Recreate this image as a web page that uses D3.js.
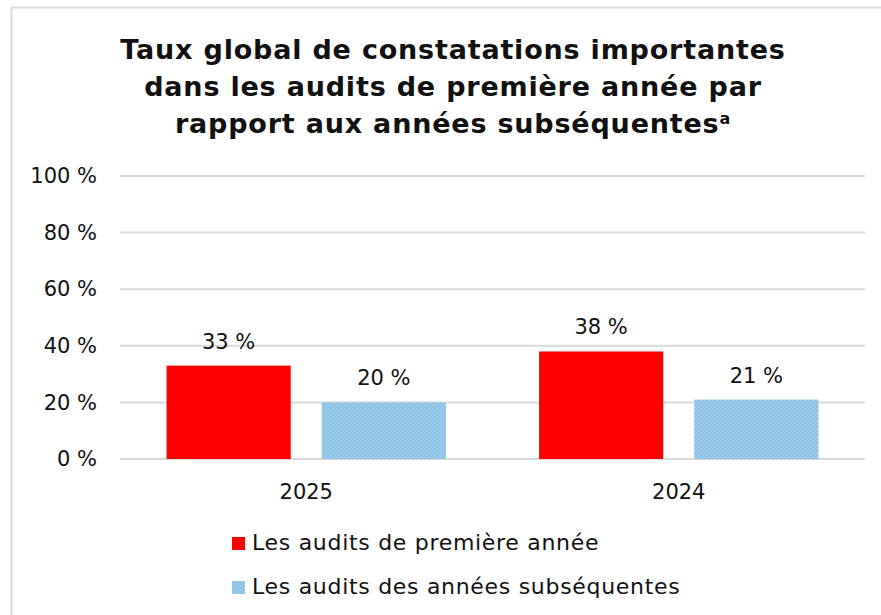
<!DOCTYPE html>
<html>
<head>
<meta charset="utf-8">
<script src="https://cdn.jsdelivr.net/npm/d3@7"></script>
<style>
  body { margin: 0; background: #fff; }
  text { font-family: "DejaVu Sans", sans-serif; fill: #111; }
</style>
</head>
<body>
<svg id="chart" width="881" height="615"></svg>
<script>
    var categories = ['2025', '2024'];
    var seriesNames = ['Les audits de première année', 'Les audits des années subséquentes'];
    var firstYear = [33, 38];
    var laterYears = [20, 21];
    var yTicks = [0, 20, 40, 60, 80, 100];
    var titleLines = ['Taux global de constatations importantes',
                      'dans les audits de première année par',
                      'rapport aux années subséquentes'];

    var svg = d3.select('#chart');
    var colors = ['#ff0000', 'url(#dots)'];

    // light blue dotted fill
    var pat = svg.append('defs').append('pattern')
      .attr('id', 'dots').attr('width', 4).attr('height', 4)
      .attr('patternUnits', 'userSpaceOnUse');
    pat.append('rect').attr('width', 4).attr('height', 4).attr('fill', '#8cc0e4');
    pat.append('rect').attr('width', 2).attr('height', 2).attr('fill', '#9ccaea');
    pat.append('rect').attr('x', 2).attr('y', 2).attr('width', 2).attr('height', 2).attr('fill', '#9ccaea');

    // frame
    svg.append('path')
      .attr('d', 'M11.5,615 V7.5 H881')
      .attr('fill', 'none').attr('stroke', '#d9d9d9').attr('stroke-width', 2);

    // title
    var title = svg.append('text')
      .attr('text-anchor', 'middle')
      .style('font-size', '27px').style('font-weight', 'bold')
      .style('letter-spacing', '0.8px');
    titleLines.forEach(function(t, i) {
      title.append('tspan').attr('x', 453).attr('y', 59 + i * 37).text(t);
      if (i === 2) {
        title.append('tspan').attr('dy', -9).style('font-size', '16px').text('a');
      }
    });

    var x0 = d3.scaleBand().domain(categories).range([120, 865]);
    var x1 = d3.scaleBand().domain([0, 1]).range([0, x0.bandwidth()])
      .paddingInner(0.2).paddingOuter(0.3);
    var y = d3.scaleLinear().domain([0, 100]).range([459, 176]);

    // gridlines
    svg.append('g').selectAll('line').data(yTicks).enter().append('line')
      .attr('x1', 120).attr('x2', 865)
      .attr('y1', function(d) { return y(d); })
      .attr('y2', function(d) { return y(d); })
      .attr('stroke', '#d9d9d9').attr('stroke-width', 2);

    // y axis
    var yAxis = svg.append('g')
      .attr('transform', 'translate(97,0)')
      .call(d3.axisLeft(y).tickValues(yTicks).tickSize(0).tickPadding(0)
        .tickFormat(function(d) { return d + ' %'; }));
    yAxis.select('.domain').remove();
    yAxis.selectAll('text').style('font-size', '21px').style('font-family', null)
      .attr('fill', '#111');

    // x axis labels
    var xAxis = svg.append('g')
      .attr('transform', 'translate(0,459)')
      .call(d3.axisBottom(x0).tickSize(0).tickPadding(25));
    xAxis.select('.domain').remove();
    xAxis.selectAll('text').style('font-size', '21px').style('font-family', null)
      .attr('fill', '#111');

    var series = [firstYear, laterYears];
    series.forEach(function(vals, s) {
      var g = svg.append('g');
      g.selectAll('rect').data(vals).enter().append('rect')
        .attr('x', function(d, i) { return x0(categories[i]) + x1(s); })
        .attr('width', x1.bandwidth())
        .attr('y', function(d) { return y(d); })
        .attr('height', function(d) { return y(0) - y(d); })
        .attr('fill', colors[s]);
      g.selectAll('text').data(vals).enter().append('text')
        .attr('x', function(d, i) { return x0(categories[i]) + x1(s) + x1.bandwidth() / 2; })
        .attr('y', function(d) { return y(d) - 17; })
        .attr('text-anchor', 'middle')
        .style('font-size', '21px')
        .text(function(d) { return d + ' %'; });
    });

    // legend
    var leg = svg.append('g').selectAll('g').data(seriesNames).enter().append('g')
      .attr('transform', function(d, i) { return 'translate(232,' + (537 + i * 44) + ')'; });
    leg.append('rect').attr('width', 13).attr('height', 13)
      .attr('fill', function(d, i) { return colors[i]; });
    leg.append('text').attr('x', 20).attr('y', 13)
      .style('font-size', '22px')
      .style('letter-spacing', '0.7px')
      .text(function(d) { return d; });
</script>
</body>
</html>
